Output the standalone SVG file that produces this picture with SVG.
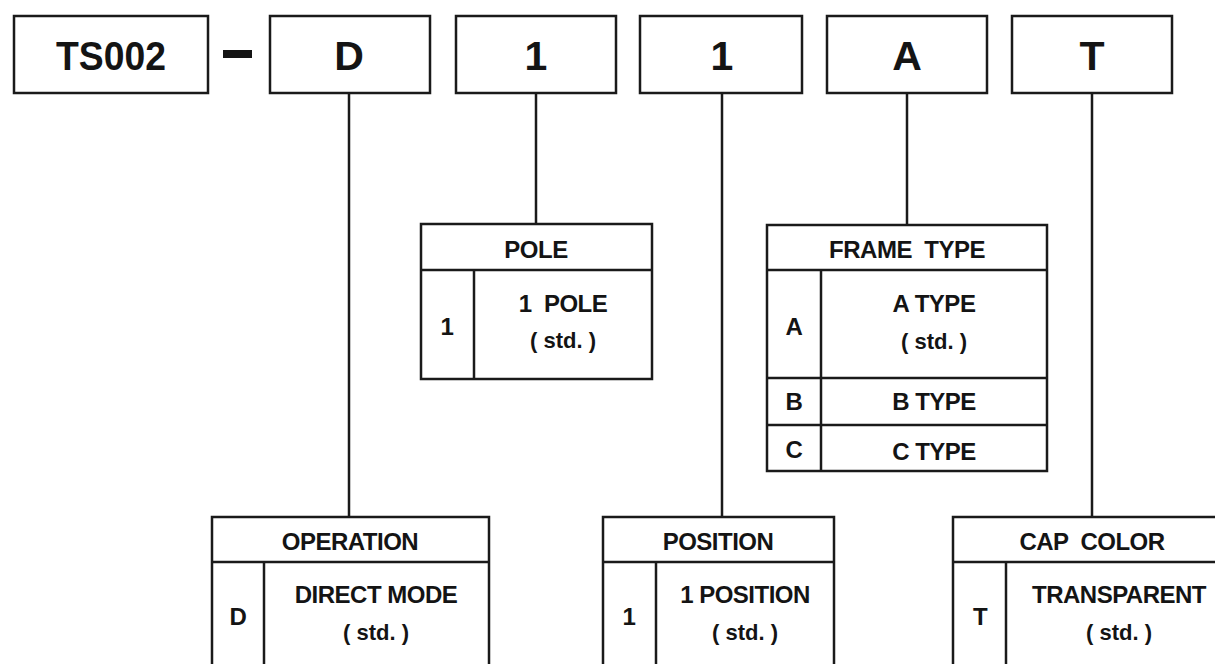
<svg xmlns="http://www.w3.org/2000/svg" width="1215" height="664" viewBox="0 0 1215 664">
<style>
.box{fill:#fff;stroke:#1a1a1a;stroke-width:2.5}
.ln{stroke:#1a1a1a;stroke-width:2.5;fill:none}
.big{font-family:"Liberation Sans",Arial,sans-serif;font-weight:bold;font-size:41px;fill:#141414;text-anchor:middle}
.t{font-family:"Liberation Sans",Arial,sans-serif;font-weight:bold;font-size:24px;fill:#141414;text-anchor:middle;letter-spacing:-0.5px;white-space:pre}
.s{font-family:"Liberation Sans",Arial,sans-serif;font-weight:bold;font-size:22px;fill:#141414;text-anchor:middle;white-space:pre}
</style>
<rect width="1215" height="664" fill="#fff"/>
<g id="connectors">
<line class="ln" x1="349" y1="93" x2="349" y2="517"/>
<line class="ln" x1="536" y1="93" x2="536" y2="224"/>
<line class="ln" x1="722" y1="93" x2="722" y2="517"/>
<line class="ln" x1="907" y1="93" x2="907" y2="225"/>
<line class="ln" x1="1092" y1="93" x2="1092" y2="517"/>
</g>
<g id="code-ts002">
<rect class="box" x="14" y="16" width="194" height="77"/>
<text class="big" x="111" y="70" textLength="110" lengthAdjust="spacingAndGlyphs">TS002</text>
</g>
<g id="dash"><rect x="223" y="50" width="29" height="8" fill="#141414"/></g>
<g id="code-d">
<rect class="box" x="270" y="16" width="160" height="77"/>
<text class="big" x="349" y="70">D</text>
</g>
<g id="code-pole">
<rect class="box" x="456" y="16" width="160" height="77"/>
<text class="big" x="536" y="70">1</text>
</g>
<g id="code-position">
<rect class="box" x="640" y="16" width="162" height="77"/>
<text class="big" x="722" y="70">1</text>
</g>
<g id="code-frame">
<rect class="box" x="827" y="16" width="160" height="77"/>
<text class="big" x="907" y="70">A</text>
</g>
<g id="code-cap">
<rect class="box" x="1012" y="16" width="160" height="77"/>
<text class="big" x="1092" y="70">T</text>
</g>
<g id="table-pole">
<rect class="box" x="421" y="224" width="231" height="155"/>
<line class="ln" x1="421" y1="270" x2="652" y2="270"/>
<line class="ln" x1="474" y1="270" x2="474" y2="379"/>
<text class="t" x="536" y="258">POLE</text>
<text class="t" x="447" y="335">1</text>
<text class="t" x="563" y="312" xml:space="preserve">1  POLE</text>
<text class="s" x="563" y="348">( std. )</text>
</g>
<g id="table-frame">
<rect class="box" x="767" y="225" width="280" height="246"/>
<line class="ln" x1="767" y1="270" x2="1047" y2="270"/>
<line class="ln" x1="821" y1="270" x2="821" y2="471"/>
<line class="ln" x1="767" y1="378" x2="1047" y2="378"/>
<line class="ln" x1="767" y1="425" x2="1047" y2="425"/>
<text class="t" x="907" y="258" xml:space="preserve">FRAME  TYPE</text>
<text class="t" x="794" y="335">A</text>
<text class="t" x="934" y="312">A TYPE</text>
<text class="s" x="934" y="349">( std. )</text>
<text class="t" x="794" y="410">B</text>
<text class="t" x="934" y="410">B TYPE</text>
<text class="t" x="794" y="458">C</text>
<text class="t" x="934" y="460">C TYPE</text>
</g>
<g id="table-operation">
<rect class="box" x="212" y="517" width="277" height="160"/>
<line class="ln" x1="212" y1="562" x2="489" y2="562"/>
<line class="ln" x1="264" y1="562" x2="264" y2="670"/>
<text class="t" x="350" y="550">OPERATION</text>
<text class="t" x="238" y="625">D</text>
<text class="t" x="376" y="603">DIRECT MODE</text>
<text class="s" x="376" y="640">( std. )</text>
</g>
<g id="table-position">
<rect class="box" x="603" y="517" width="231" height="160"/>
<line class="ln" x1="603" y1="562" x2="834" y2="562"/>
<line class="ln" x1="656" y1="562" x2="656" y2="670"/>
<text class="t" x="718" y="550">POSITION</text>
<text class="t" x="629" y="625">1</text>
<text class="t" x="745" y="603">1 POSITION</text>
<text class="s" x="745" y="640">( std. )</text>
</g>
<g id="table-cap">
<rect class="box" x="953" y="517" width="280" height="160"/>
<line class="ln" x1="953" y1="562" x2="1233" y2="562"/>
<line class="ln" x1="1006" y1="562" x2="1006" y2="670"/>
<text class="t" x="1092" y="550" xml:space="preserve">CAP  COLOR</text>
<text class="t" x="980" y="625">T</text>
<text class="t" x="1119" y="603">TRANSPARENT</text>
<text class="s" x="1119" y="640">( std. )</text>
</g>
</svg>
